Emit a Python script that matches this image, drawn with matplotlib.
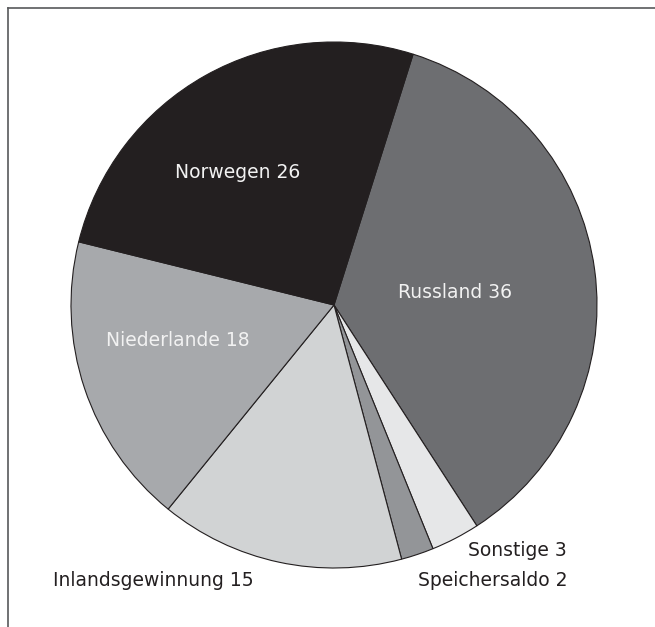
import matplotlib
matplotlib.use("Agg")
import matplotlib.pyplot as plt

# Erdgasbezug nach Herkunft (Anteile in %)
SOURCES = ['Russland', 'Sonstige', 'Speichersaldo', 'Inlandsgewinnung', 'Niederlande', 'Norwegen']
SHARES = [36, 3, 2, 15, 18, 26]
COLORS = ['#6d6e71', '#e6e7e8', '#939598', '#d1d3d4', '#a7a9ac', '#231f20']

W, H = 655, 627
CENTER = (334, H - 305)
RADIUS = 263
START_ANGLE = 72.5

# label positions in pixels (x, y from top), alignment and colour
LABELS = {
    'Russland':         (455, 292, 'center', '#f2f2f2'),
    'Norwegen':         (238, 172, 'center', '#f2f2f2'),
    'Niederlande':      (178, 341, 'center', '#f2f2f2'),
    'Inlandsgewinnung': (53, 581, 'left', '#231f20'),
    'Sonstige':         (567, 550, 'right', '#231f20'),
    'Speichersaldo':    (568, 581, 'right', '#231f20'),
}


def main():
    fig = plt.figure(figsize=(W / 100, H / 100), dpi=100)
    ax = fig.add_axes([0, 0, 1, 1])

    ax.pie(SHARES, colors=COLORS, startangle=START_ANGLE, counterclock=False,
           center=CENTER, radius=RADIUS,
           wedgeprops=dict(edgecolor='#231f20', linewidth=0.8))
    ax.set_xlim(0, W)
    ax.set_ylim(0, H)
    ax.set_aspect('equal')
    ax.axis('off')

    for name, share in zip(SOURCES, SHARES):
        x, y, ha, col = LABELS[name]
        ax.text(x, H - y, f'{name} {share}', ha=ha, va='center',
                color=col, fontsize=13.5, family='DejaVu Sans')

    # frame (only left and top edges visible in the crop)
    ax.plot([7.5, 7.5], [0, H - 7.5], color='#58595b', lw=1.2, clip_on=False)
    ax.plot([7.5, W], [H - 7.5, H - 7.5], color='#58595b', lw=1.2, clip_on=False)

    fig.savefig('out.png', dpi=100, facecolor='white')


if __name__ == "__main__":
    main()
